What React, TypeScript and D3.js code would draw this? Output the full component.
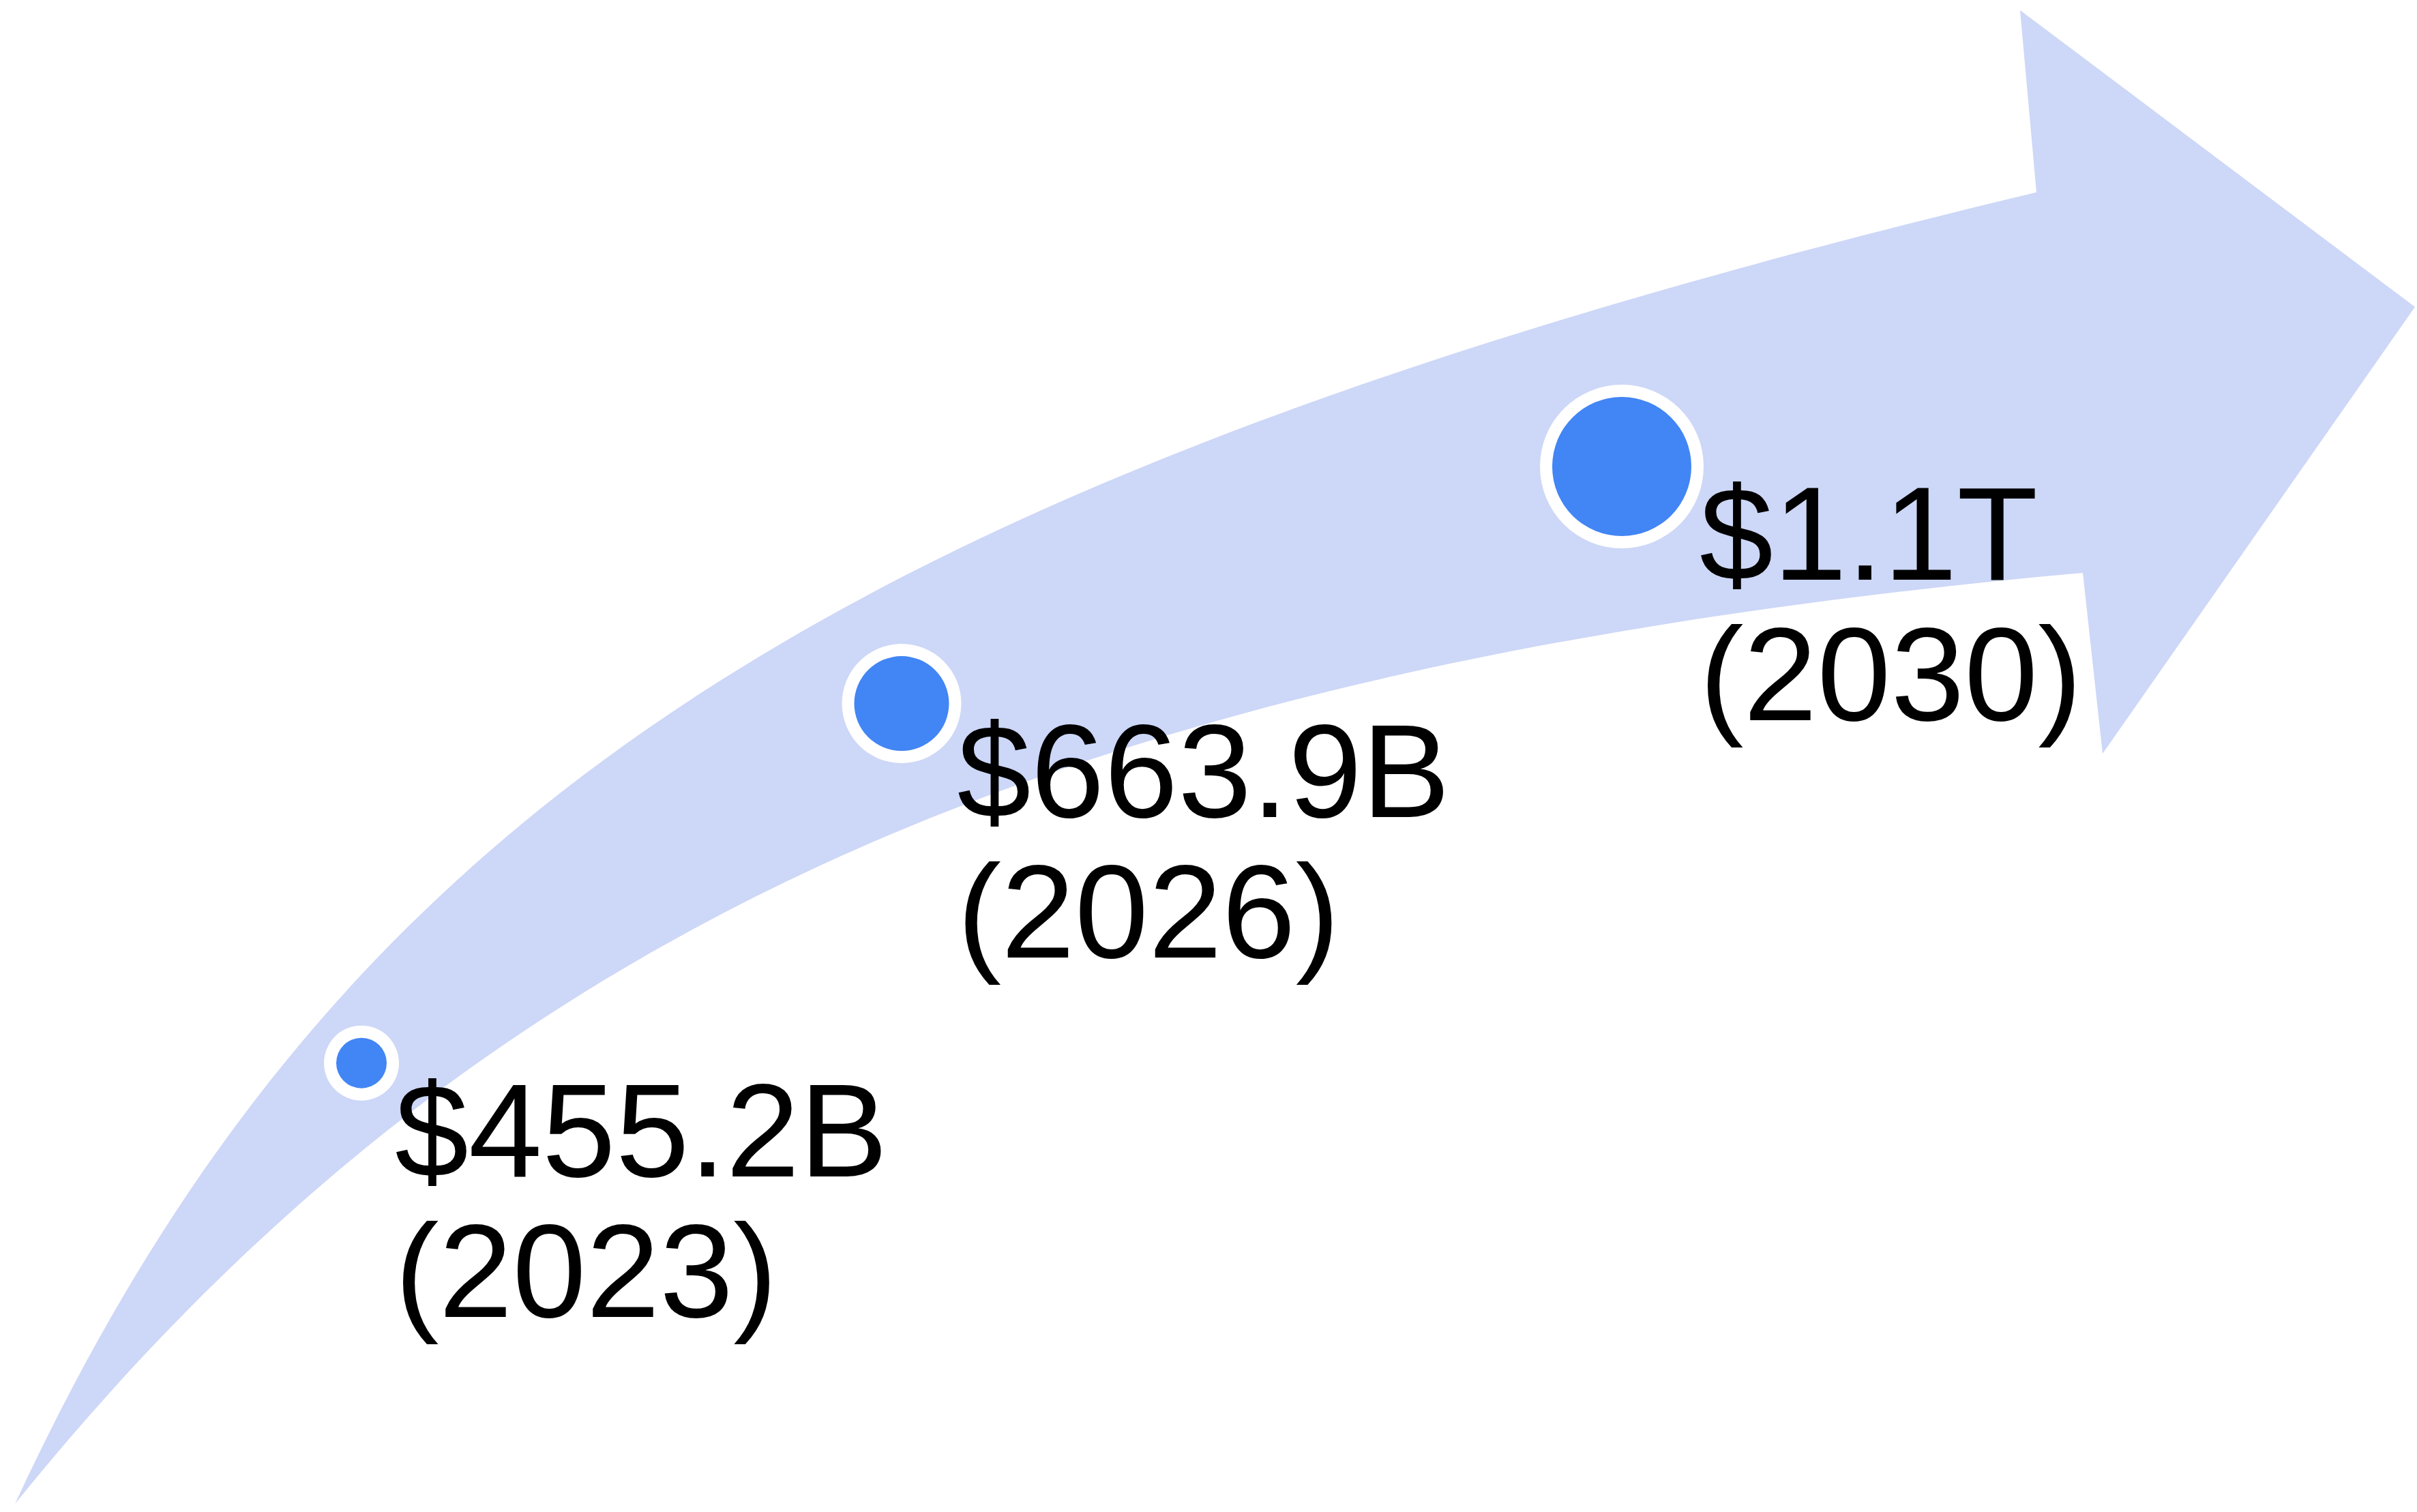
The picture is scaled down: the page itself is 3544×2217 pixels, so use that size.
import * as d3 from "d3";
import { useEffect } from "react";
import * as React from "react";

// market size, billions of USD
const years = [2023, 2026, 2030];
const values = [455.2, 663.9, 1100];

const formatValue = (v: number) =>
  v >= 1000 ? `$${(v / 1000).toFixed(1)}T` : `$${v.toFixed(1)}B`;

const width = 3544;
const height = 2217;

type Pt = [number, number];

// swoosh arrow: two bezier edges from the tail tip, then the head
const tail: Pt = [22, 2205];
const upperCurve: Pt[] = [[495, 1183], [1236, 702], [2986, 282]];
const lowerCurve: Pt[] = [[706, 1358], [1555, 975], [3054, 840]];
const head: Pt[] = [[2962, 15], [3541, 450], [3083, 1105]];

const bezier = (p0: Pt, [p1, p2, p3]: Pt[], t: number): Pt => {
  const u = 1 - t;
  const a = u * u * u, b = 3 * u * u * t, c = 3 * u * t * t, e = t * t * t;
  return [
    a * p0[0] + b * p1[0] + c * p2[0] + e * p3[0],
    a * p0[1] + b * p1[1] + c * p2[1] + e * p3[1],
  ];
};

const sample = (curve: Pt[]) => d3.range(0, 1.0001, 0.005).map((t) => bezier(tail, curve, t));

// y of a sampled edge at x
const edgeY = (edge: Pt[], x: number) => {
  const i = d3.bisector((p: Pt) => p[0]).left(edge, x);
  const a = edge[Math.max(0, i - 1)];
  const b = edge[Math.min(edge.length - 1, i)];
  if (a[0] === b[0]) return a[1];
  return a[1] + ((x - a[0]) / (b[0] - a[0])) * (b[1] - a[1]);
};

const Growth: React.FC = () => {
  useEffect(() => {
    const svg = d3
      .select("#growth")
      .append("svg")
      .attr("width", width)
      .attr("height", height)
      .style("position", "absolute")
      .style("left", 0)
      .style("top", 0)
      .style("background", "#fff");

    // Arrow
    const path = d3.path();
    path.moveTo(tail[0], tail[1]);
    path.bezierCurveTo(...upperCurve[0], ...upperCurve[1], ...upperCurve[2]);
    head.forEach((p) => path.lineTo(p[0], p[1]));
    path.lineTo(...lowerCurve[2]);
    path.bezierCurveTo(...lowerCurve[1], ...lowerCurve[0], ...tail);
    path.closePath();

    svg.append("path").attr("d", path.toString()).attr("fill", "#cdd7f7");

    const upperEdge = sample(upperCurve);
    const lowerEdge = sample(lowerCurve);

    // Scales
    const x = d3.scaleLinear().domain([2023, 2030]).range([530, 2378]);
    const r = d3.scaleLinear().domain([0, years.length - 1]).range([37, 102]);
    const ring = 18;

    const points = years.map((year, i) => {
      const cx = x(year);
      const cy = (edgeY(upperEdge, cx) + edgeY(lowerEdge, cx)) / 2;
      return { year, value: values[i], cx, cy, r: r(i) };
    });

    const g = svg.selectAll("g.point").data(points).enter().append("g").attr("class", "point");

    g.append("circle")
      .attr("cx", (d) => d.cx)
      .attr("cy", (d) => d.cy)
      .attr("r", (d) => d.r + ring)
      .attr("fill", "#ffffff");

    g.append("circle")
      .attr("cx", (d) => d.cx)
      .attr("cy", (d) => d.cy)
      .attr("r", (d) => d.r)
      .attr("fill", "#4285f4");

    const label = g
      .append("text")
      .attr("font-family", "'Liberation Sans', Arial, sans-serif")
      .attr("font-size", 194)
      .attr("fill", "#000");

    label
      .append("tspan")
      .attr("x", (d) => d.cx + d.r + ring - 6)
      .attr("y", (d) => d.cy + 166)
      .text((d) => formatValue(d.value));

    label
      .append("tspan")
      .attr("x", (d) => d.cx + d.r + ring - 6)
      .attr("y", (d) => d.cy + 166 + 206)
      .text((d) => `(${d.year})`);

    return () => {
      d3.select("#growth").select("svg").remove();
    };
  });

  return <div id="growth"></div>;
};

export default function App() {
  return <Growth />;
}
